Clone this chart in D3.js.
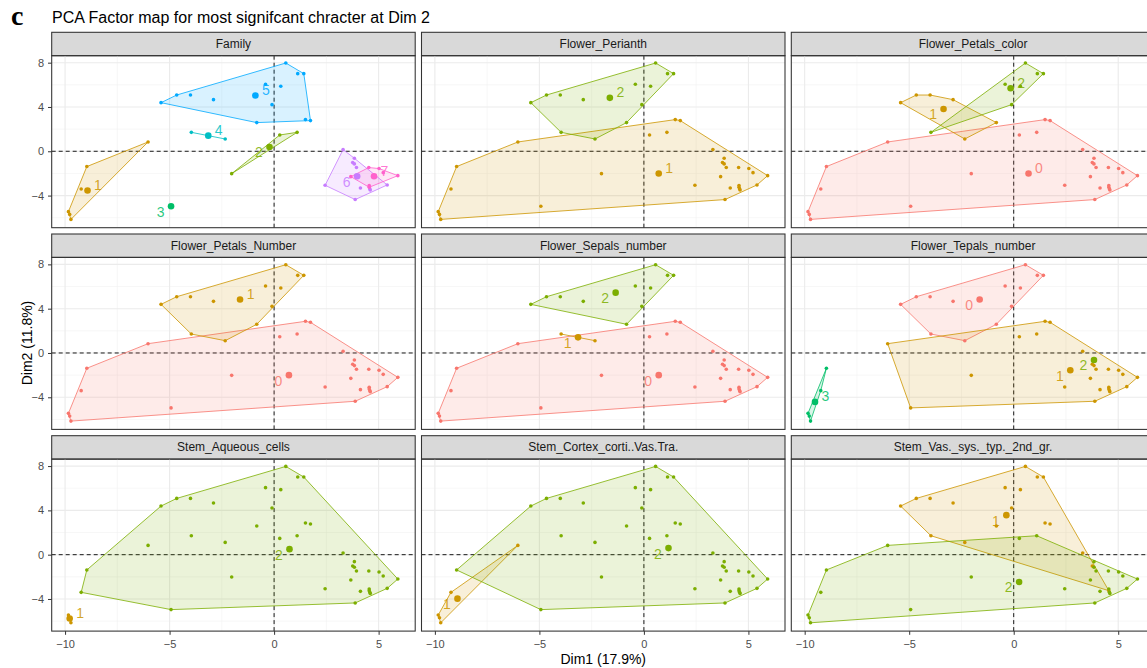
<!DOCTYPE html>
<html>
<head>
<meta charset="utf-8">
<script src="https://cdn.jsdelivr.net/npm/d3@7"></script>
<style>
  body { margin: 0; background: #fff; }
  text { font-family: "Liberation Sans", Arial, sans-serif; }
</style>
</head>
<body>
<div id="chart"></div>
<script>
// individual coordinates on the first two PCA dimensions
var dim1 = [0.56, 1.13, 1.42, -0.41, 0.32, -4.66, -4.0, -5.41, -2.9, -0.1,
	1.5, 1.74, -0.83, -3.96, 1.1, 0.27, -2.34, -6.03, 3.3, 3.84,
	3.76, 3.84, 3.94, 4.53, 5.02, 5.22, 5.92, -8.96, -2.03, 3.67,
	4.55, 4.55, 4.58, 4.6, 4.13, 5.41, 2.44, -9.23, 3.88, -4.93,
	-9.84, -9.78, -9.72];
var dim2 = [7.97, 7.01, 7.01, 6.05, 5.87, 5.08, 5.08, 4.39, 4.66, 4.21,
	2.86, 2.77, 2.59, 1.71, 1.71, 1.47, 1.11, 0.84, 0.15, -0.63,
	-1.02, -1.14, -1.47, -1.47, -1.56, -1.93, -2.2, -1.38, -2.02, -2.29,
	-3.1, -3.25, -3.4, -3.5, -3.31, -3.04, -3.07, -3.4, -4.36, -4.96,
	-5.45, -5.7, -6.15];

var facets = ["Family", "Flower_Perianth", "Flower_Petals_color",
	"Flower_Petals_Number", "Flower_Sepals_number", "Flower_Tepals_number",
	"Stem_Aqueous_cells", "Stem_Cortex_corti..Vas.Tra.", "Stem_Vas._sys._typ._2nd_gr."];

// group of each individual, one array per facet
var familyGroups = [5,5,5,5,5,5,5,5,5,5, 5,5,5,4,2,2,4,1,6,6, 6,6,6,7,7,7,7,1,2,7, 7,7,6,6,6,6,6,1,6,3, 1,1,1];
var perianthGroups = [2,2,2,2,2,2,2,2,2,2, 1,1,2,2,1,1,2,1,1,1, 1,1,1,1,1,1,1,1,1,1, 1,1,1,1,1,1,1,1,1,1, 1,1,1];
var petalsColorGroups = [2,2,2,2,2,1,1,1,1,2, 0,0,1,2,0,0,1,0,0,0, 0,0,0,0,0,0,0,0,0,0, 0,0,0,0,0,0,0,0,0,0, 0,0,0];
var petalsNumberGroups = [1,1,1,1,1,1,1,1,1,1, 0,0,1,1,0,0,1,0,0,0, 0,0,0,0,0,0,0,0,0,0, 0,0,0,0,0,0,0,0,0,0, 0,0,0];
var sepalsGroups = [2,2,2,2,2,2,2,2,2,2, 0,0,2,1,0,0,1,0,0,0, 0,0,0,0,0,0,0,0,0,0, 0,0,0,0,0,0,0,0,0,0, 0,0,0];
var tepalsGroups = [0,0,0,0,0,0,0,0,0,0, 1,1,0,0,1,1,0,1,1,2, 1,1,1,1,1,1,1,3,1,1, 1,1,1,1,1,1,1,3,1,1, 3,3,3];
var aqueousGroups = [2,2,2,2,2,2,2,2,2,2, 2,2,2,2,2,2,2,2,2,2, 2,2,2,2,2,2,2,2,2,2, 2,2,2,2,2,2,2,2,2,2, 1,1,1];
var cortexGroups = [2,2,2,2,2,2,2,2,2,2, 2,2,2,2,2,2,2,1,2,2, 2,2,2,2,2,2,2,2,2,2, 2,2,2,2,2,2,2,1,2,2, 1,1,1];
var vasGroups = [1,1,1,1,1,1,1,1,1,1, 1,1,1,1,2,2,1,2,1,2, 1,2,2,2,2,2,2,2,2,2, 2,1,2,2,2,2,2,2,2,2, 2,2,2];

var facetGroups = [familyGroups, perianthGroups, petalsColorGroups, petalsNumberGroups,
	sepalsGroups, tepalsGroups, aqueousGroups, cortexGroups, vasGroups];

var groupColors = ["#F8766D", "#CD9600", "#7CAE00", "#00BE67", "#00BFC4", "#00A9FF", "#C77CFF", "#FF61CC"];

var xTicks = [-10, -5, 0, 5];
var yTicks = [-4, 0, 4, 8];
var xMinor = [-7.5, -2.5, 2.5];
var yMinor = [-6, -2, 2, 6];

// which side of the centroid the group label sits (1 = right/up, -1 = left/down)
var labelSide = {
	"Family": {1: 1, 2: -1, 3: -1, 4: 1, 5: 1, 6: -1, 7: 1},
	"Flower_Perianth": {1: 1, 2: 1},
	"Flower_Petals_color": {0: 1, 1: -1, 2: 1},
	"Flower_Petals_Number": {0: -1, 1: 1},
	"Flower_Sepals_number": {0: -1, 1: -1, 2: -1},
	"Flower_Tepals_number": {0: -1, 1: -1, 2: -1, 3: 1},
	"Stem_Aqueous_cells": {1: 1, 2: -1},
	"Stem_Cortex_corti..Vas.Tra.": {1: -1, 2: -1},
	"Stem_Vas._sys._typ._2nd_gr.": {1: -1, 2: -1}
};

var WIDTH = 1147, HEIGHT = 668;
var LEFT = 51.7, TOP = 32.3;
var PANEL_W = 363.5, GAP_X = 6.3;
var STRIP_H = 23.4, PLOT_H = 172, ROW_PITCH = 201.7;

var x = d3.scaleLinear().domain([-10.64, 6.75]).range([0, PANEL_W]);
var y = d3.scaleLinear().domain([-6.9, 8.63]).range([PLOT_H, 0]);

var svg = d3.select("#chart").append("svg")
	.attr("width", WIDTH)
	.attr("height", HEIGHT);

// title
svg.append("text")
	.attr("x", 11).attr("y", 25)
	.style("font-family", "'Liberation Serif', 'Times New Roman', serif")
	.style("font-weight", "bold")
	.style("font-size", "28px")
	.text("c");
svg.append("text")
	.attr("x", 52).attr("y", 22.5)
	.style("font-size", "16px")
	.attr("fill", "#000")
	.text("PCA Factor map for most signifcant chracter at Dim 2");

facets.forEach(function(name, i) {
	var col = i % 3, row = Math.floor(i / 3);
	var px = LEFT + col * (PANEL_W + GAP_X);
	var stripY = TOP + row * ROW_PITCH;
	var py = stripY + STRIP_H;
	var groups = facetGroups[i];

	// strip
	svg.append("rect")
		.attr("x", px).attr("y", stripY)
		.attr("width", PANEL_W).attr("height", STRIP_H)
		.attr("fill", "#D9D9D9")
		.attr("stroke", "#333333")
		.attr("stroke-width", 1.07);
	svg.append("text")
		.attr("x", px + PANEL_W / 2).attr("y", stripY + STRIP_H / 2)
		.attr("text-anchor", "middle")
		.attr("dominant-baseline", "central")
		.attr("fill", "#1A1A1A")
		.style("font-size", "12px")
		.text(name);

	var g = svg.append("g").attr("transform", `translate(${px},${py})`);

	// grid
	g.selectAll(".xminor").data(xMinor).join("line")
		.attr("x1", d => x(d)).attr("x2", d => x(d))
		.attr("y1", 0).attr("y2", PLOT_H)
		.attr("stroke", "#F2F2F2").attr("stroke-width", 0.6);
	g.selectAll(".yminor").data(yMinor).join("line")
		.attr("x1", 0).attr("x2", PANEL_W)
		.attr("y1", d => y(d)).attr("y2", d => y(d))
		.attr("stroke", "#F2F2F2").attr("stroke-width", 0.6);
	g.selectAll(".xmajor").data(xTicks).join("line")
		.attr("x1", d => x(d)).attr("x2", d => x(d))
		.attr("y1", 0).attr("y2", PLOT_H)
		.attr("stroke", "#EBEBEB").attr("stroke-width", 1.1);
	g.selectAll(".ymajor").data(yTicks).join("line")
		.attr("x1", 0).attr("x2", PANEL_W)
		.attr("y1", d => y(d)).attr("y2", d => y(d))
		.attr("stroke", "#EBEBEB").attr("stroke-width", 1.1);

	// reference lines
	g.append("line")
		.attr("x1", 0).attr("x2", PANEL_W)
		.attr("y1", y(0)).attr("y2", y(0))
		.attr("stroke", "#000").attr("stroke-width", 0.9)
		.attr("stroke-dasharray", "4,3");
	g.append("line")
		.attr("x1", x(0)).attr("x2", x(0))
		.attr("y1", 0).attr("y2", PLOT_H)
		.attr("stroke", "#000").attr("stroke-width", 0.9)
		.attr("stroke-dasharray", "4,3");

	// group members
	var levels = Array.from(new Set(groups)).sort((a, b) => a - b);
	var members = levels.map(function(lv) {
		var idx = d3.range(groups.length).filter(k => groups[k] === lv);
		return {
			level: lv,
			pts: idx.map(k => [x(dim1[k]), y(dim2[k])]),
			cx: x(d3.mean(idx, k => dim1[k])),
			cy: y(d3.mean(idx, k => dim2[k]))
		};
	});

	// hulls
	members.forEach(function(m) {
		var color = groupColors[m.level];
		var hull = m.pts.length >= 3 ? d3.polygonHull(m.pts) : null;
		if (hull) {
			g.append("path")
				.attr("d", "M" + hull.join("L") + "Z")
				.attr("fill", color).attr("fill-opacity", 0.15)
				.attr("stroke", color).attr("stroke-width", 0.8);
		} else if (m.pts.length === 2) {
			g.append("line")
				.attr("x1", m.pts[0][0]).attr("y1", m.pts[0][1])
				.attr("x2", m.pts[1][0]).attr("y2", m.pts[1][1])
				.attr("stroke", color).attr("stroke-width", 0.8);
		}
	});

	// points
	members.forEach(function(m) {
		var color = groupColors[m.level];
		g.selectAll(null).data(m.pts).join("circle")
			.attr("cx", d => d[0]).attr("cy", d => d[1])
			.attr("r", 1.8)
			.attr("fill", color);
	});

	// centroids and labels
	members.forEach(function(m) {
		var color = groupColors[m.level];
		var side = (labelSide[name] && labelSide[name][m.level]) || 1;
		g.append("circle")
			.attr("cx", m.cx).attr("cy", m.cy)
			.attr("r", 3.3)
			.attr("fill", color);
		g.append("text")
			.attr("x", m.cx + side * 10.5)
			.attr("y", m.cy - side * 5.5)
			.attr("text-anchor", "middle")
			.attr("dominant-baseline", "central")
			.attr("fill", color)
			.attr("fill-opacity", 0.85)
			.style("font-size", "14px")
			.text(m.level);
	});

	// panel border
	g.append("rect")
		.attr("width", PANEL_W).attr("height", PLOT_H)
		.attr("fill", "none")
		.attr("stroke", "#333333")
		.attr("stroke-width", 1.07);

	// axes
	if (col === 0) {
		var ya = g.append("g")
			.call(d3.axisLeft(y).tickValues(yTicks).tickSize(3.7).tickPadding(4));
		ya.select(".domain").remove();
		ya.selectAll("line").attr("stroke", "#333333");
		ya.selectAll("text").attr("fill", "#4D4D4D").style("font-size", "11px")
			.style("font-family", "'Liberation Sans', Arial, sans-serif");
	}
	if (row === 2) {
		var xa = g.append("g")
			.attr("transform", `translate(0,${PLOT_H})`)
			.call(d3.axisBottom(x).tickValues(xTicks).tickSize(3.7).tickPadding(5.6));
		xa.select(".domain").remove();
		xa.selectAll("line").attr("stroke", "#333333");
		xa.selectAll("text").attr("fill", "#4D4D4D").style("font-size", "11px")
			.style("font-family", "'Liberation Sans', Arial, sans-serif");
	}
});

// axis titles
svg.append("text")
	.attr("x", LEFT + (3 * PANEL_W + 2 * GAP_X) / 2)
	.attr("y", 663.5)
	.attr("text-anchor", "middle")
	.style("font-size", "14px")
	.text("Dim1 (17.9%)");
svg.append("text")
	.attr("transform", "rotate(-90)")
	.attr("x", -343)
	.attr("y", 31.5)
	.attr("text-anchor", "middle")
	.style("font-size", "14px")
	.text("Dim2 (11.8%)");
</script>
</body>
</html>
